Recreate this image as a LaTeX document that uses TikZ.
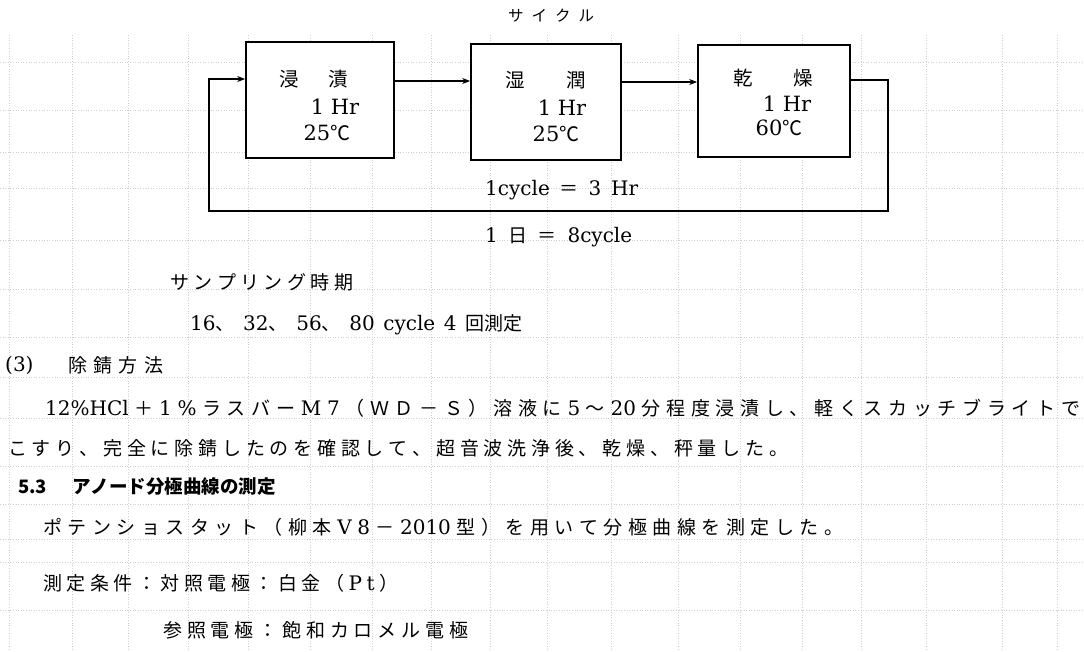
\documentclass[tikz,border=0pt]{standalone}
\usepackage{fontspec}
\usetikzlibrary{arrows.meta}
\newfontfamily\jp{Noto Sans CJK JP}
\newfontfamily\lm{DejaVu Serif}
\newcommand\lat[1]{{\lm\fontsize{20}{22}\selectfont #1}}
\makeatletter
\newcommand\spreadto[2]{\hbox to #1{\@tfor\sprd@x:=#2\do{\sprd@x\hfil}\unskip}}
\makeatother
\tikzset{
  box/.style={draw, line width=1.7pt, inner sep=0pt},
  arr/.style={line width=1.5pt, -{Stealth[length=8pt,width=6pt]}},
  txt/.style={inner sep=0pt, anchor=west, font=\jp\fontsize{19}{21}\selectfont},
  ctxt/.style={inner sep=0pt, font=\jp\fontsize{19.5}{21}\selectfont},
  blat/.style={inner sep=0pt, font=\lm\fontsize{21}{23}\selectfont},
  hd/.style={inner sep=0pt, anchor=west, font=\jp\bfseries\fontsize{18.5}{20}\selectfont},
  small/.style={inner sep=0pt, anchor=west, font=\jp\fontsize{15.5}{16}\selectfont},
  ghost/.style={gray!38, dotted, line width=0.6pt}
}
\begin{document}
\begin{tikzpicture}[x=1pt,y=-1pt]
\fill[white] (0,0) rectangle (1084,651);
\useasboundingbox (0,0) rectangle (1084,651);
% faint show-through grid
\foreach \yy in {62,110,152,188,240,289,337,377,418,466,504,539,562,610}
  \draw[ghost] (0,\yy) -- (1084,\yy);
\foreach \xx in {9,72,128,188,248,310,372,431,490,547,611,678,740,802,861,926,1002,1057}
  \draw[ghost] (\xx,35) -- (\xx,651);

% title
\node[small] (title) at (508,16) {\spreadto{86pt}{サイクル}};

% boxes
\node[box, fill=white, minimum width=148pt, minimum height=116pt] (b1) at (320,100) {};
\node[box, fill=white, minimum width=150pt, minimum height=116pt] (b2) at (546,102) {};
\node[box, fill=white, minimum width=152pt, minimum height=112pt] (b3) at (774,101) {};

% box texts
\node[ctxt] (t1a) at (314,79) {\spreadto{69pt}{浸漬}};
\node[blat] (t1b) at (335,107) {1 Hr};
\node[blat] (t1c) at (327,133) {25{\jp\fontsize{20}{21}\selectfont ℃}};
\node[ctxt] (t2a) at (546,80) {\spreadto{81pt}{湿潤}};
\node[blat] (t2b) at (562,108) {1 Hr};
\node[blat] (t2c) at (556,134) {25{\jp\fontsize{20}{21}\selectfont ℃}};
\node[ctxt] (t3a) at (773,78) {\spreadto{80pt}{乾燥}};
\node[blat] (t3b) at (787,104) {1 Hr};
\node[blat] (t3c) at (779,128) {60{\jp\fontsize{20}{21}\selectfont ℃}};

% connectors
\coordinate (y12) at (0,81);
\coordinate (y23) at (0,82);
\coordinate (y3o) at (0,80);
\coordinate (y1i) at (0,79);
\coordinate (lr) at (888,211);
\coordinate (ll) at (209,211);
\draw[arr] (b1.east |- y12) -- (b2.west |- y12);
\draw[arr] (b2.east |- y23) -- (b3.west |- y23);
\draw[arr] (b3.east |- y3o) -| (lr) -- (ll) |- (b1.west |- y1i);

% cycle notes
\node[txt] (cyc) at (485,190) {\spreadto{153pt}{{\lat{1cycle}}＝{\lat{3}}{\lat{Hr}}}};
\node[txt] (day) at (485,237) {\spreadto{147pt}{{\lat{1}}日＝{\lat{8cycle}}}};

% sampling
\node[txt] (samp) at (170,282) {\spreadto{183pt}{サンプリング時期}};
\node[txt] (sampn) at (190,325) {\spreadto{332pt}{{\lat{16}、}{\lat{32}、}{\lat{56}、}{\lat{80}}{\lat{cycle}}{\lat{4}}{回測定}}};

% (3)
\node[txt] (s3n) at (5,365) {\lat{(3)}};
\node[txt] (s3) at (68,365) {\spreadto{95pt}{除錆方法}};
\node[txt] (p1) at (45,408) {\spreadto{1035pt}{{\lat{12\%HCl}}＋{\lat{1}}{\lat{\%}}ラスバー{\lat{M}}{\lat{7}}（ＷＤ－Ｓ）溶液に{\lat{5}}～{\lat{20}}分程度浸漬し、軽くスカッチブライトで}};
\node[txt] (p2) at (8,448) {\spreadto{780pt}{こすり、完全に除錆したのを確認して、超音波洗浄後、乾燥、秤量した。}};

% 5.3
\node[hd] (h53n) at (18,487) {5.3};
\node[hd] (h53) at (72,487) {\spreadto{197pt}{アノード分極曲線の測定}};
\node[txt] (p3) at (43,527) {\spreadto{800pt}{ポテンショスタット（柳本{\lat{V}}{\lat{8}}－{\lat{2010}}型）を用いて分極曲線を測定した。}};
\node[txt] (p4) at (43,583) {\spreadto{355pt}{測定条件：対照電極：白金（{\lat{P}}{\lat{t}}）}};
\node[txt] (p5) at (163,630) {\spreadto{305pt}{参照電極：飽和カロメル電極}};
\end{tikzpicture}
\end{document}
